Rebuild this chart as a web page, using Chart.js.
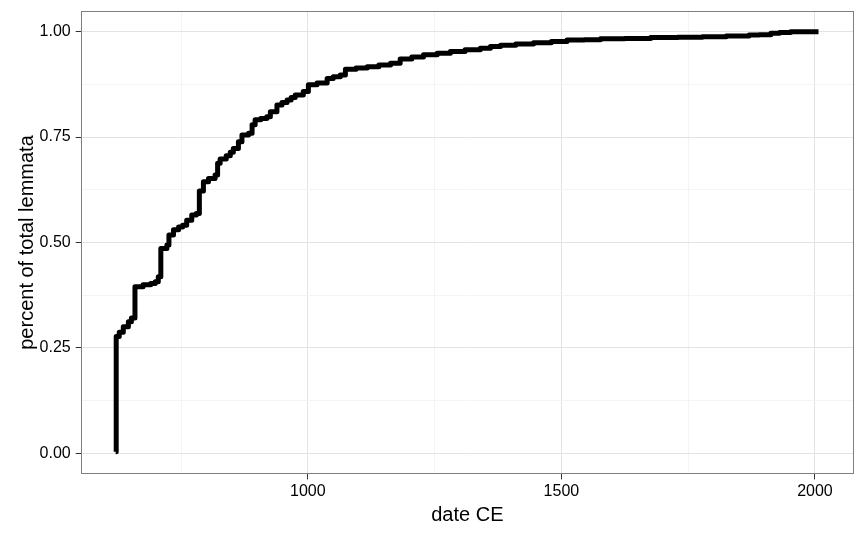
<!DOCTYPE html>
<html>
<head>
<meta charset="utf-8">
<script src="https://cdn.jsdelivr.net/npm/chart.js@4/dist/chart.umd.min.js"></script>
<style>
  html, body { margin: 0; padding: 0; background: #ffffff; }
  #wrap { width: 865px; height: 536px; }
</style>
</head>
<body>
<div id="wrap"><canvas id="c" width="865" height="536"></canvas></div>
<script>
// Year (CE) at which each step of the cumulative curve occurs
const years = [
  621, 622, 628, 636, 646, 652, 659, 675, 690, 699,
  705, 710, 722, 726, 735, 745, 753, 761, 771, 780,
  786, 794, 804, 817, 822, 827, 839, 847, 853, 863,
  870, 883, 890, 896, 907, 919, 926, 939, 949, 959,
  967, 975, 991, 1001, 1018, 1038, 1050, 1064, 1074, 1095,
  1117, 1140, 1163, 1182, 1205, 1228, 1255, 1281, 1310, 1340,
  1360, 1380, 1410, 1445, 1480, 1511, 1545, 1577, 1625, 1676,
  1730, 1778, 1825, 1870, 1890, 1913, 1930, 1952, 2007
];
// Cumulative share of total lemmata reached at each step
const share = [
  0.004, 0.277, 0.287, 0.300, 0.312, 0.321, 0.395, 0.400, 0.403, 0.407,
  0.419, 0.486, 0.494, 0.518, 0.530, 0.537, 0.541, 0.553, 0.565, 0.569,
  0.622, 0.644, 0.652, 0.660, 0.688, 0.698, 0.706, 0.714, 0.723, 0.739,
  0.755, 0.759, 0.779, 0.791, 0.794, 0.798, 0.810, 0.826, 0.832, 0.838,
  0.844, 0.850, 0.858, 0.874, 0.878, 0.889, 0.893, 0.897, 0.911, 0.914,
  0.917, 0.921, 0.925, 0.935, 0.940, 0.945, 0.949, 0.953, 0.957, 0.961,
  0.965, 0.968, 0.971, 0.974, 0.977, 0.980, 0.981, 0.983, 0.984, 0.986,
  0.987, 0.988, 0.990, 0.992, 0.993, 0.996, 0.998, 1.000, 1.000
];
const xMajorTicks = [1000, 1500, 2000];
const xMinorTicks = [750, 1250, 1750];
const yMajorTicks = [0, 0.25, 0.5, 0.75, 1];
const yMinorTicks = [0.125, 0.375, 0.625, 0.875];

const points = years.map((y, i) => ({ x: y, y: share[i] }));

const panelBorder = {
  id: 'panelBorder',
  afterDraw(chart) {
    const { ctx, chartArea: a } = chart;
    ctx.save();
    ctx.strokeStyle = '#7f7f7f';
    ctx.lineWidth = 1;
    const l = Math.round(a.left) + 0.5, t = Math.round(a.top) + 0.5;
    const r = Math.round(a.right) - 0.5, b = Math.round(a.bottom) - 0.5;
    ctx.strokeRect(l, t, r - l, b - t);
    ctx.restore();
  }
};

const isMajorX = v => xMajorTicks.includes(v);
const isMajorY = v => yMajorTicks.some(m => Math.abs(m - v) < 1e-9);
const FONT = 'Liberation Sans, Arial, sans-serif';

new Chart(document.getElementById('c'), {
  type: 'line',
  data: {
    datasets: [{
      data: points,
      borderColor: '#000000',
      borderWidth: 5,
      stepped: true,
      pointRadius: 0,
      fill: false,
      borderJoinStyle: 'round',
      borderCapStyle: 'butt'
    }]
  },
  options: {
    responsive: false,
    animation: false,
    devicePixelRatio: 1,
    layout: { padding: { top: 10.6, right: 11, bottom: 0, left: 0 } },
    plugins: { legend: { display: false }, tooltip: { enabled: false } },
    scales: {
      x: {
        type: 'linear',
        min: 552,
        max: 2077,
        afterBuildTicks(scale) {
          scale.ticks = [...xMinorTicks, ...xMajorTicks].sort((a, b) => a - b).map(v => ({ value: v }));
        },
        afterFit(scale) { scale.height = 61.6; scale.paddingLeft = 0; scale.paddingRight = 0; },
        border: { display: false },
        grid: {
          color: ctx => isMajorX(ctx.tick.value) ? '#e3e3e3' : '#f4f4f4',
          lineWidth: 1,
          tickLength: 5,
          tickColor: ctx => isMajorX(ctx.tick.value) ? '#333333' : 'rgba(0,0,0,0)'
        },
        ticks: {
          autoSkip: false,
          maxRotation: 0,
          padding: 3,
          color: '#000000',
          font: { family: FONT, size: 16 },
          callback: v => isMajorX(v) ? String(v) : ''
        },
        title: {
          display: true,
          text: 'date CE',
          color: '#000000',
          font: { family: FONT, size: 20 },
          padding: { top: 0, bottom: 9 }
        }
      },
      y: {
        type: 'linear',
        min: -0.05,
        max: 1.05,
        afterBuildTicks(scale) {
          scale.ticks = [...yMinorTicks, ...yMajorTicks].sort((a, b) => a - b).map(v => ({ value: v }));
        },
        afterFit(scale) { scale.width = 80.7; scale.paddingTop = 0; scale.paddingBottom = 0; },
        border: { display: false },
        grid: {
          color: ctx => isMajorY(ctx.tick.value) ? '#e3e3e3' : '#f4f4f4',
          lineWidth: 1,
          tickLength: 5,
          tickColor: ctx => isMajorY(ctx.tick.value) ? '#333333' : 'rgba(0,0,0,0)'
        },
        ticks: {
          autoSkip: false,
          padding: 5,
          color: '#000000',
          font: { family: FONT, size: 16 },
          callback: v => isMajorY(v) ? v.toFixed(2) : ''
        },
        title: {
          display: true,
          text: 'percent of total lemmata',
          color: '#000000',
          font: { family: FONT, size: 20 },
          padding: { top: 15, bottom: 0 }
        }
      }
    }
  },
  plugins: [panelBorder]
});
</script>
</body>
</html>
